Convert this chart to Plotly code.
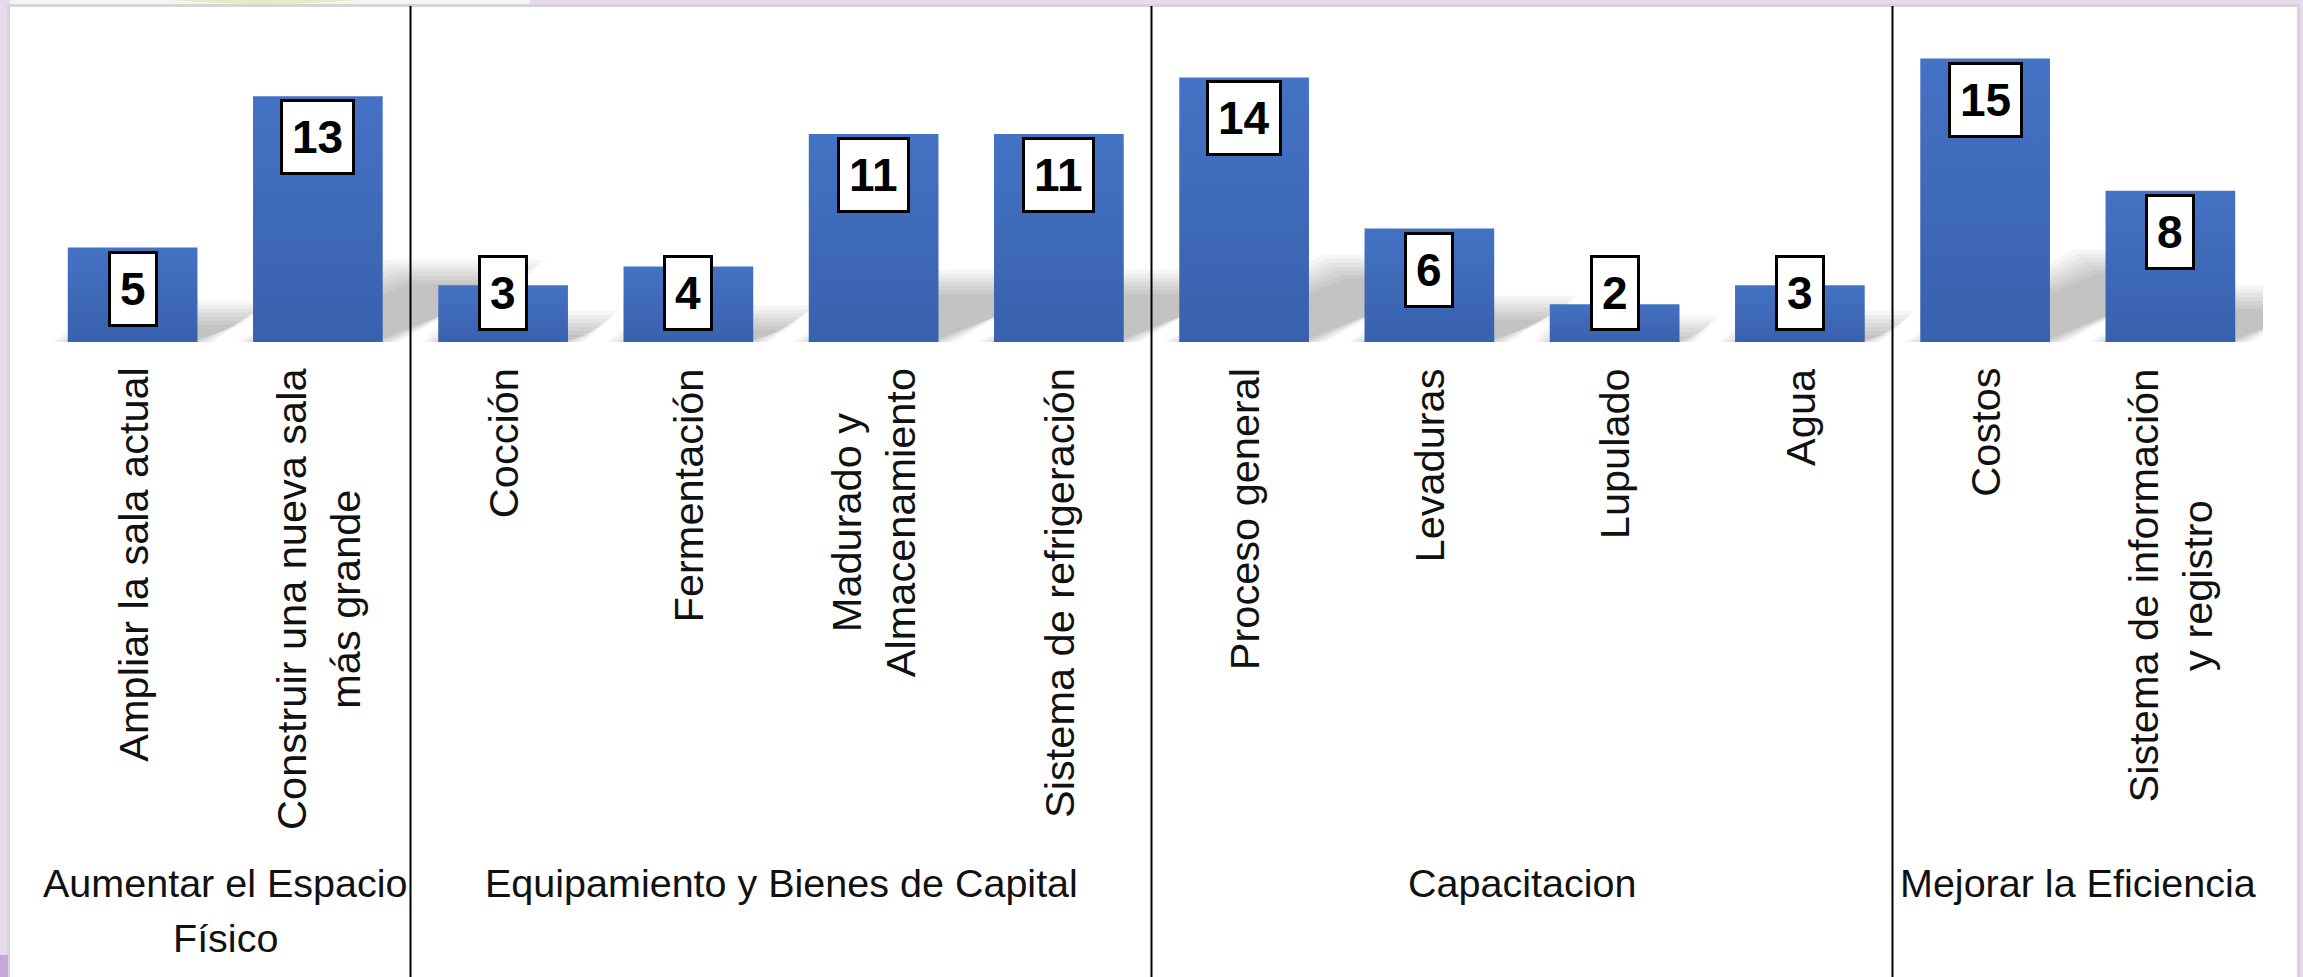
import plotly.graph_objects as go

# ---------------- data ----------------
categories = [
    "Ampliar la sala actual",
    "Construir una nueva sala<br>más grande",
    "Cocción",
    "Fermentación",
    "Madurado y<br>Almacenamiento",
    "Sistema de refrigeración",
    "Proceso general",
    "Levaduras",
    "Lupulado",
    "Agua",
    "Costos",
    "Sistema de información<br>y registro",
]
values = [5, 13, 3, 4, 11, 11, 14, 6, 2, 3, 15, 8]
groups = [
    "Aumentar el Espacio<br>Físico",
    "Equipamiento y Bienes de Capital",
    "Capacitacion",
    "Mejorar la Eficiencia",
]
group_sizes = [2, 4, 4, 2]

# ---------------- layout constants (pixels) ----------------
W, H = 2303, 977
ML, MR, MT, MB = 40, 40, 7, 635
PX_PER_UNIT = 18.9
PLOT_W = W - ML - MR
PLOT_H = H - MT - MB
Y_MAX = PLOT_H / PX_PER_UNIT
N = len(categories)
CAT_W = PLOT_W / N
BAR_W = 0.7
GROUP_LINE_H = 55

FONT = "Liberation Sans"
TEXT = "#111111"
BAR_COLOR = "#4472C4"


def py2paper(py):
    return (H - MB - py) / PLOT_H


def px2paper(px):
    return (px - ML) / PLOT_W


xs = list(range(N))

fig = go.Figure()
fig.add_trace(go.Bar(
    x=xs, y=values, width=BAR_W,
    marker=dict(color=BAR_COLOR, line=dict(width=0)),
    hoverinfo="skip",
))

# subtle vertical shading on each bar (darker toward the base)
for i, v in enumerate(values):
    bx0, bx1 = i - BAR_W / 2, i + BAR_W / 2
    fig.add_trace(go.Scatter(
        x=[bx0, bx1, bx1, bx0, bx0], y=[0, 0, v, v, 0],
        mode="lines", line=dict(width=0), fill="toself",
        fillgradient=dict(type="vertical",
                          colorscale=[[0, "rgba(10,30,80,0.20)"],
                                      [1, "rgba(10,30,80,0.0)"]]),
        hoverinfo="skip",
    ))

shapes = []
# outer chart area (white with light gray border)
shapes.append(dict(type="rect", xref="paper", yref="paper", layer="below",
                   x0=px2paper(8.5), x1=px2paper(2298.5),
                   y0=py2paper(1005), y1=py2paper(5.5),
                   fillcolor="white", line=dict(color="#D5D5D5", width=3)))
# decorative strip at very top
shapes.append(dict(type="rect", xref="paper", yref="paper", layer="below",
                   x0=px2paper(10), x1=px2paper(530), y0=py2paper(4), y1=py2paper(-5),
                   fillcolor="#F4F4F0", line=dict(width=0)))
shapes.append(dict(type="circle", xref="paper", yref="paper", layer="below",
                   x0=px2paper(107), x1=px2paper(423), y0=py2paper(4), y1=py2paper(-40),
                   fillcolor="#E4EBC6", line=dict(width=0)))
# bottom-left deeper lavender
shapes.append(dict(type="rect", xref="paper", yref="paper", layer="below",
                   x0=px2paper(0), x1=px2paper(8), y0=py2paper(980), y1=py2paper(955),
                   fillcolor="#C8A6D9", line=dict(width=0)))

# soft perspective shadows behind each bar
for i, v in enumerate(values):
    h = v * PX_PER_UNIT
    d = 0.6 * h / CAT_W
    top = 0.27 * v
    for e in [-8, -4, 0, 4, 8, 12, 16]:
        ex = e / CAT_W
        ey = e / PX_PER_UNIT
        t = max(top + ey, 0.05)
        x0 = i - BAR_W / 2 - ex
        x1 = i + BAR_W / 2 + ex
        path = (f"M {x0},0 L {x1},0 L {x1 + d},{t} L {x0 + d},{t} Z")
        shapes.append(dict(type="path", xref="x", yref="y", layer="below",
                           path=path, fillcolor="black", opacity=0.035,
                           line=dict(width=0)))

# group divider lines
bounds = []
acc = 0
for s in group_sizes[:-1]:
    acc += s
    bounds.append(acc - 0.5)
for b in bounds:
    shapes.append(dict(type="line", xref="x", yref="paper",
                       x0=b, x1=b, y0=py2paper(1000), y1=py2paper(6),
                       line=dict(color="black", width=2)))

annotations = []
# value labels (white boxes)
min_top = 87 / PX_PER_UNIT
for i, v in enumerate(values):
    y_top = max(v - 3 / PX_PER_UNIT, min_top)
    annotations.append(dict(
        x=i, y=y_top, xref="x", yref="y", yanchor="top", xanchor="center",
        text=f"<b>{v}</b>", showarrow=False,
        font=dict(family=FONT, size=46, color="black"),
        bgcolor="white", bordercolor="black", borderwidth=3, borderpad=9,
    ))

# rotated category labels
for i, c in enumerate(categories):
    annotations.append(dict(
        x=i, y=py2paper(366), xref="x", yref="paper",
        yanchor="top", xanchor="center", textangle=-90, align="center",
        text=c, showarrow=False,
        font=dict(family=FONT, size=41.5, color=TEXT),
    ))

# group labels (each line placed separately for the wider line spacing)
start = 0
for g, s in zip(groups, group_sizes):
    center = start + (s - 1) / 2
    for k, line in enumerate(g.split("<br>")):
        annotations.append(dict(
            x=center, y=py2paper(859 + k * GROUP_LINE_H), xref="x", yref="paper",
            yanchor="top", xanchor="center", align="center",
            text=line, showarrow=False,
            font=dict(family=FONT, size=39.5, color=TEXT),
        ))
    start += s

fig.update_layout(
    width=W, height=H,
    margin=dict(l=ML, r=MR, t=MT, b=MB, pad=0),
    paper_bgcolor="#E6DAEF",
    plot_bgcolor="white",
    showlegend=False,
    bargap=0.3,
    xaxis=dict(range=[-0.5, N - 0.5], visible=False, fixedrange=True),
    yaxis=dict(range=[0, Y_MAX], visible=False, fixedrange=True),
    shapes=shapes,
    annotations=annotations,
)

fig.write_html(
    "out.html",
    config={"displayModeBar": False},
    post_script="document.body.style.margin='0';document.body.style.overflow='hidden';",
)
